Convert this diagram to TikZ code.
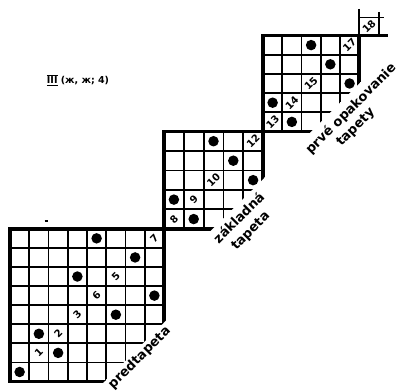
\documentclass[tikz,border=0pt]{standalone}
\usepackage{fontspec}
\newfontfamily\djfont{DejaVu Sans}
\newcommand\gridblock[6]{% #1 ox, #2 oy, #3 n, #4 diagonal cut (cells), #5 sx, #6 sy
  \begin{scope}
    \clip ({#1-#5},{#2-#6}) -- ({#1+(#4+1)*#5},{#2-#6}) -- ({#1-#5},{#2+(#4+1)*#6}) -- cycle;
    \pgfmathtruncatemacro\nm{#3-1}
    \foreach \k in {1,...,\nm}{
      \draw[gridthin] ({#1+\k*#5},#2) -- ({#1+\k*#5},{#2+#3*#6});
      \draw[gridthin] (#1,{#2+\k*#6}) -- ({#1+#3*#5},{#2+\k*#6});
    }
    \draw[gridthick] (#1,#2) rectangle ({#1+#3*#5},{#2+#3*#6});
  \end{scope}}
\begin{document}
\begin{tikzpicture}[x=1pt,y=-1pt,
  gridthin/.style={line width=1.8pt},
  gridthick/.style={line width=3.5pt},
  celldot/.style={circle,fill=black,draw=none,inner sep=0pt,minimum size=10.5pt},
  cellnum/.style={font=\djfont\bfseries\fontsize{10}{10}\selectfont,rotate=45,inner sep=0pt},
  diaglabel/.style={font=\djfont\bfseries\fontsize{13}{13}\selectfont,rotate=45,inner sep=0pt},
  titlelabel/.style={font=\djfont\bfseries\fontsize{9.5}{9.5}\selectfont,inner sep=0pt}]
\useasboundingbox (0,0) rectangle (398,390);

% grids
\gridblock{10}{228.8}{8}{12.9}{19.25}{19.09}
\gridblock{164}{131.5}{5}{7.45}{19.8}{19.46}
\gridblock{263}{35.5}{5}{7.5}{19.24}{19.2}

% big grid content
\def\ox{10}\def\oy{228.8}\def\sx{19.25}\def\sy{19.09}
\foreach \c/\r in {5/1,7/2,4/3,8/4,6/5,2/6,3/7,1/8}
  \node[celldot] (bd\c\r) at ({\ox+(\c-0.5)*\sx},{\oy+(\r-0.5)*\sy}) {};
\foreach \c/\r/\t in {8/1/7,6/3/5,5/4/6,4/5/3,3/6/2,2/7/1}
  \node[cellnum] (bn\t) at ({\ox+(\c-0.5)*\sx},{\oy+(\r-0.5)*\sy}) {\t};

% middle grid content
\def\ox{164}\def\oy{131.5}\def\sx{19.8}\def\sy{19.46}
\foreach \c/\r in {3/1,4/2,5/3,1/4,2/5}
  \node[celldot] (md\c\r) at ({\ox+(\c-0.5)*\sx},{\oy+(\r-0.5)*\sy}) {};
\foreach \c/\r/\t in {5/1/12,3/3/10,2/4/9,1/5/8}
  \node[cellnum] (mn\t) at ({\ox+(\c-0.5)*\sx},{\oy+(\r-0.5)*\sy}) {\t};

% top grid content
\def\ox{263}\def\oy{35.5}\def\sx{19.24}\def\sy{19.2}
\foreach \c/\r in {3/1,4/2,5/3,1/4,2/5}
  \node[celldot] (td\c\r) at ({\ox+(\c-0.5)*\sx},{\oy+(\r-0.5)*\sy}) {};
\foreach \c/\r/\t in {5/1/17,3/3/15,2/4/14,1/5/13}
  \node[cellnum] (tn\t) at ({\ox+(\c-0.5)*\sx},{\oy+(\r-0.5)*\sy}) {\t};

% extra cell 18
\draw[line width=2.4pt] (359.2,9) -- (359.2,35.5);
\draw[gridthin] (359.2,17.5) -- (384,17.5);
\draw[gridthin] (378.6,12) -- (378.6,36);
\draw[gridthick] (359.2,35.5) -- (388,35.5);
\node[cellnum] (n18) at (369,26.5) {18};

% diagonal labels
\node[diaglabel] (pred) at (139.5,358) {predtapeta};
\node[diaglabel] (zak) at (238.5,217.5) {základná};
\node[diaglabel] (zaktap) at (251,231.5) {tapeta};
\node[diaglabel] (prve) at (351,109) {prvé opakovanie};
\node[diaglabel] (prvetap) at (356,127.5) {tapety};

% title
\node[titlelabel] (title) at (78,80.5) {$\overline{\underline{\hbox{III}}}$\ (ж, ж; 4)};

% speck
\draw[line width=1.6pt] (44.5,221) -- (47.5,221);
\end{tikzpicture}
\end{document}
